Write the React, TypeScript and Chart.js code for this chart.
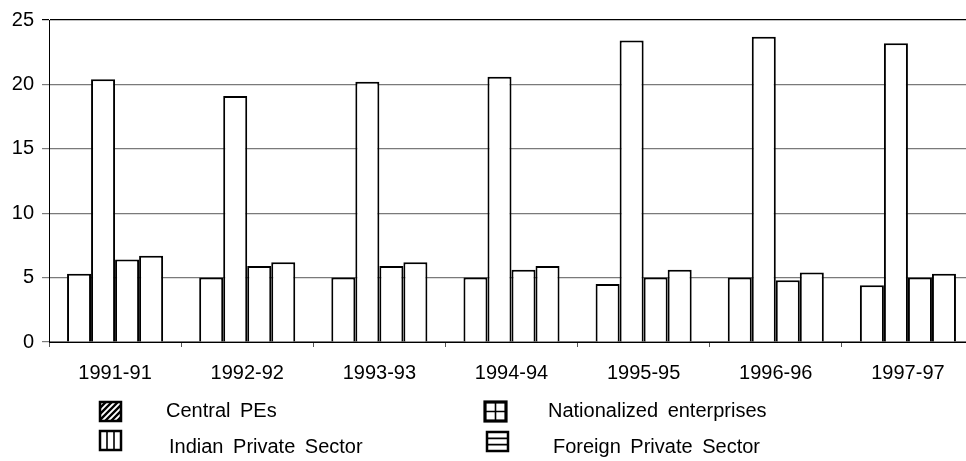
import React, { useEffect, useRef } from "react";
import { Chart, registerables } from "chart.js";

Chart.register(...registerables);

const categories = ["1991-91", "1992-92", "1993-93", "1994-94", "1995-95", "1996-96", "1997-97"];
const centralPEs = [5.3, 5.0, 5.0, 5.0, 4.5, 5.0, 4.4];
const indianPrivate = [20.4, 19.1, 20.2, 20.6, 23.4, 23.7, 23.2];
const nationalized = [6.4, 5.9, 5.9, 5.6, 5.0, 4.8, 5.0];
const foreignPrivate = [6.7, 6.2, 6.2, 5.9, 5.6, 5.4, 5.3];
const seriesNames = ["Central PEs", "Indian Private Sector", "Nationalized enterprises", "Foreign Private Sector"];
const yTicks = [0, 5, 10, 15, 20, 25];

const FONT = "'Liberation Sans', Arial, Helvetica, sans-serif";

type Pattern = "hatch" | "vertical" | "grid" | "horizontal";

const legendItems: { label: string; pattern: Pattern; ix: number; iy: number; tx: number; ty: number }[] = [
  { label: seriesNames[0], pattern: "hatch", ix: 100, iy: 402, tx: 166, ty: 411 },
  { label: seriesNames[1], pattern: "vertical", ix: 100, iy: 431, tx: 169, ty: 447 },
  { label: seriesNames[2], pattern: "grid", ix: 485, iy: 402, tx: 548, ty: 411 },
  { label: seriesNames[3], pattern: "horizontal", ix: 487, iy: 432, tx: 553, ty: 447 },
];

function drawIcon(ctx: CanvasRenderingContext2D, p: Pattern, x: number, y: number) {
  const w = 21;
  const h = 19;
  ctx.save();
  ctx.fillStyle = "#fff";
  ctx.fillRect(x, y, w, h);
  ctx.strokeStyle = "#000";
  ctx.lineWidth = 1.6;
  ctx.beginPath();
  ctx.rect(x, y, w, h);
  ctx.clip();
  ctx.beginPath();
  if (p === "hatch") {
    ctx.lineWidth = 2.4;
    for (let k = -h; k < w + h; k += 6) {
      ctx.moveTo(x + k, y + h);
      ctx.lineTo(x + k + h, y);
    }
  } else if (p === "vertical") {
    ctx.moveTo(x + w / 3, y);
    ctx.lineTo(x + w / 3, y + h);
    ctx.moveTo(x + (2 * w) / 3, y);
    ctx.lineTo(x + (2 * w) / 3, y + h);
  } else if (p === "grid") {
    ctx.moveTo(x + w / 2, y);
    ctx.lineTo(x + w / 2, y + h);
    ctx.moveTo(x, y + h / 2);
    ctx.lineTo(x + w, y + h / 2);
  } else {
    ctx.moveTo(x, y + h / 3);
    ctx.lineTo(x + w, y + h / 3);
    ctx.moveTo(x, y + (2 * h) / 3);
    ctx.lineTo(x + w, y + (2 * h) / 3);
  }
  ctx.stroke();
  ctx.restore();
  ctx.save();
  ctx.strokeStyle = "#000";
  ctx.lineWidth = p === "grid" ? 3.2 : 2.5;
  ctx.strokeRect(x, y, w, h);
  ctx.restore();
}

const legendPlugin = {
  id: "patternLegend",
  afterDraw(chart: any) {
    const ctx: CanvasRenderingContext2D = chart.ctx;
    ctx.save();
    for (const it of legendItems) {
      drawIcon(ctx, it.pattern, it.ix, it.iy);
      ctx.fillStyle = "#000";
      ctx.font = `20px ${FONT}`;
      (ctx as any).wordSpacing = "4px";
      ctx.textBaseline = "middle";
      ctx.textAlign = "left";
      ctx.fillText(it.label, it.tx, it.ty);
    }
    ctx.restore();
  },
};

export default function App() {
  const ref = useRef<HTMLCanvasElement | null>(null);
  useEffect(() => {
    if (!ref.current) return;
    const barStyle = {
      backgroundColor: "#ffffff",
      borderColor: "#000000",
      borderWidth: 2,
      categoryPercentage: 0.727,
      barPercentage: 1.0,
    };
    const chart = new Chart(ref.current, {
      type: "bar",
      data: {
        labels: categories,
        datasets: [
          { label: seriesNames[0], data: centralPEs, ...barStyle },
          { label: seriesNames[1], data: indianPrivate, ...barStyle },
          { label: seriesNames[2], data: nationalized, ...barStyle },
          { label: seriesNames[3], data: foreignPrivate, ...barStyle },
        ],
      },
      options: {
        animation: false,
        responsive: false,
        maintainAspectRatio: false,
        layout: { padding: { top: 19, right: 16, bottom: 0, left: 0 } },
        plugins: { legend: { display: false }, tooltip: { enabled: false } },
        scales: {
          x: {
            afterFit: (s: any) => {
              s.height = 119;
            },
            grid: {
              offset: true,
              drawOnChartArea: false,
              drawTicks: true,
              tickLength: 5,
              color: "#555",
            },
            border: { color: "#000", width: 1 },
            ticks: {
              color: "#000",
              font: { family: FONT, size: 20 },
              padding: 14,
              maxRotation: 0,
              autoSkip: false,
            },
          },
          y: {
            min: 0,
            max: 25,
            afterFit: (s: any) => {
              s.width = 49;
            },
            afterBuildTicks: (s: any) => {
              s.ticks = yTicks.map((v) => ({ value: v }));
            },
            grid: {
              color: (c: any) => (c.tick && c.tick.value === 25 ? "#000" : "#7a7a7a"),
              lineWidth: 1.2,
              tickLength: 7,
            },
            border: { color: "#000", width: 1 },
            ticks: {
              color: "#000",
              font: { family: FONT, size: 20 },
              padding: 8,
              stepSize: 5,
            },
          },
        },
      },
      plugins: [legendPlugin],
    });
    return () => chart.destroy();
  }, []);
  return (
    <div style={{ position: "fixed", left: 0, top: 0, width: 966, height: 461, overflow: "hidden", background: "#fff" }}>
      <canvas ref={ref} width={990} height={461} style={{ width: 990, height: 461, display: "block" }} />
    </div>
  );
}
